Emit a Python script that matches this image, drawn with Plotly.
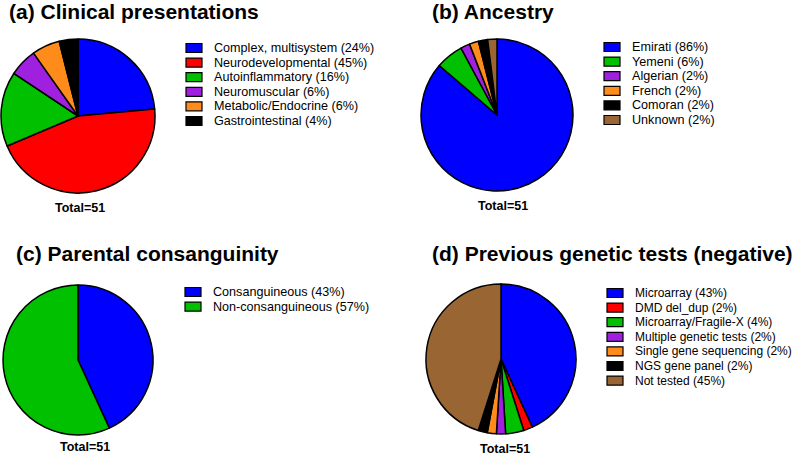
import plotly.graph_objects as go

W, H = 794, 455

# (a) Clinical presentations
clin_labels = ['Complex, multisystem (24%)', 'Neurodevelopmental (45%)', 'Autoinflammatory (16%)',
               'Neuromuscular (6%)', 'Metabolic/Endocrine (6%)', 'Gastrointestinal (4%)']
clin_values = [12, 23, 8, 3, 3, 2]
clin_colors = ['#0000FF', '#FF0000', '#00C000', '#A020E0', '#FF8C1A', '#000000']

# (b) Ancestry
anc_labels = ['Emirati (86%)', 'Yemeni (6%)', 'Algerian (2%)', 'French (2%)', 'Comoran (2%)', 'Unknown (2%)']
anc_values = [44, 3, 1, 1, 1, 1]
anc_colors = ['#0000FF', '#00C000', '#A020E0', '#FF8C1A', '#000000', '#996633']

# (c) Parental consanguinity
cons_labels = ['Consanguineous (43%)', 'Non-consanguineous (57%)']
cons_values = [22, 29]
cons_colors = ['#0000FF', '#00C000']

# (d) Previous genetic tests
test_labels = ['Microarray (43%)', 'DMD del_dup (2%)', 'Microarray/Fragile-X (4%)', 'Multiple genetic tests (2%)',
               'Single gene sequencing (2%)', 'NGS gene panel (2%)', 'Not tested (45%)']
test_values = [22, 1, 2, 1, 1, 1, 23]
test_colors = ['#0000FF', '#FF0000', '#00C000', '#A020E0', '#FF8C1A', '#000000', '#996633']

titles = ['(a) Clinical presentations', '(b) Ancestry', '(c) Parental consanguinity',
          '(d) Previous genetic tests (negative)']
total_text = 'Total=51'

# panel layout in pixels: pie centre, radius, title pos, legend pos, total pos
panels = [
    dict(labels=clin_labels, values=clin_values, colors=clin_colors, fs=12.6,
         cx=78, cy=116, r=77, tx=7, ty=11, lx=186, ly=48, totx=80, toty=208),
    dict(labels=anc_labels, values=anc_values, colors=anc_colors, fs=12.6,
         cx=497, cy=115, r=76, tx=430, ty=11, lx=604, ly=47, totx=503, toty=206),
    dict(labels=cons_labels, values=cons_values, colors=cons_colors, fs=12.6,
         cx=78, cy=360, r=75, tx=14, ty=253, lx=185, ly=292, totx=85, toty=447),
    dict(labels=test_labels, values=test_values, colors=test_colors, fs=12.0,
         cx=501, cy=359, r=75, tx=430, ty=253, lx=607, ly=293, totx=505, toty=449),
]

def px(x):
    return x / W

def py(y):
    return 1 - y / H

fig = go.Figure()
shapes = []
annotations = []
step = 14.6

for i, p in enumerate(panels):
    fig.add_trace(go.Pie(
        labels=p['labels'], values=p['values'],
        marker=dict(colors=p['colors'], line=dict(color='black', width=1.5)),
        sort=False, direction='clockwise', rotation=0,
        textinfo='none', hoverinfo='label+value', showlegend=False,
        domain=dict(x=[px(p['cx'] - p['r']), px(p['cx'] + p['r'])],
                    y=[py(p['cy'] + p['r']), py(p['cy'] - p['r'])]),
    ))
    annotations.append(dict(text='<b>' + titles[i] + '</b>', x=px(p['tx']), y=py(p['ty']),
                            xref='paper', yref='paper', xanchor='left', yanchor='middle',
                            showarrow=False, font=dict(size=21, color='black')))
    annotations.append(dict(text='<b>' + total_text + '</b>', x=px(p['totx']), y=py(p['toty']),
                            xref='paper', yref='paper', xanchor='center', yanchor='middle',
                            showarrow=False, font=dict(size=12.5, color='black')))
    # legend
    for j, (lab, col) in enumerate(zip(p['labels'], p['colors'])):
        yy = p['ly'] + j * step
        shapes.append(dict(type='rect', xref='paper', yref='paper',
                           x0=px(p['lx']), x1=px(p['lx'] + 16),
                           y0=py(yy - 4.5), y1=py(yy + 4.5),
                           fillcolor=col, line=dict(color='black', width=1.2)))
        annotations.append(dict(text=lab, x=px(p['lx'] + 26), y=py(yy),
                                xref='paper', yref='paper', xanchor='left', yanchor='middle',
                                showarrow=False, font=dict(size=p['fs'], color='black')))

fig.update_layout(
    width=W, height=H,
    margin=dict(l=0, r=0, t=0, b=0),
    paper_bgcolor='white', plot_bgcolor='white',
    font=dict(family='Liberation Sans, Arial, sans-serif', color='black'),
    shapes=shapes, annotations=annotations,
)

# page body has an 8px margin by default; drop it so the figure sits at 0,0
fig.write_html("out.html", config={'displayModeBar': False},
               post_script="document.body.style.margin='0';")
